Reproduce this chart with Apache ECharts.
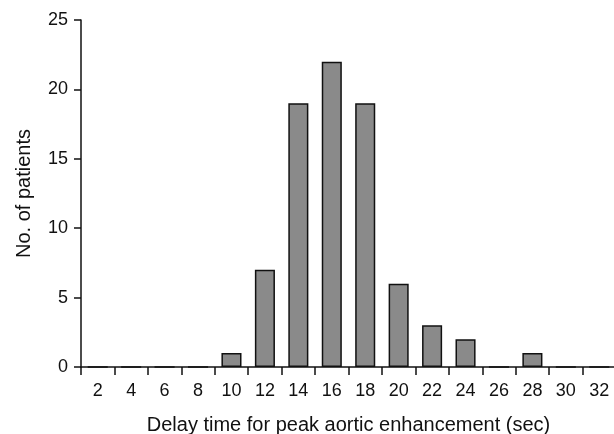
<!DOCTYPE html>
<html>
<head>
<meta charset="utf-8">
<script src="https://cdn.jsdelivr.net/npm/echarts@6/dist/echarts.min.js"></script>
<style>
  html, body { margin: 0; padding: 0; background: #fff; }
  #chart { width: 614px; height: 434px; }
</style>
</head>
<body>
<div id="chart"></div>
<script>
// delay time categories (sec)
const delayTimes = ['2', '4', '6', '8', '10', '12', '14', '16', '18', '20', '22', '24', '26', '28', '30', '32']
// number of patients per delay time
const patientCounts = [0, 0, 0, 0, 1, 7, 19, 22, 19, 6, 3, 2, 0, 1, 0, 0]
const yTicks = [0, 5, 10, 15, 20, 25]

let chartDom = document.getElementById('chart')
let myChart = echarts.init(chartDom)
let textColor = '#111'
let option = {
  animation: false,
  grid: {
    left: 81,
    right: -2,
    top: 20,
    bottom: 67,
    containLabel: false,
    outerBoundsMode: 'none'
  },
  xAxis: {
    type: 'category',
    data: delayTimes,
    boundaryGap: true,
    name: 'Delay time for peak aortic enhancement (sec)',
    nameLocation: 'middle',
    nameGap: 48,
    nameTextStyle: { color: textColor, fontSize: 20, fontFamily: 'Liberation Sans' },
    axisLine: { lineStyle: { color: '#111', width: 1.5 } },
    axisTick: { show: true, length: 8, alignWithLabel: false, lineStyle: { color: '#111', width: 1.5 } },
    axisLabel: { color: textColor, fontSize: 18, margin: 15, fontFamily: 'Liberation Sans' },
    splitLine: { show: false }
  },
  yAxis: {
    type: 'value',
    min: yTicks[0],
    max: yTicks[yTicks.length - 1],
    interval: yTicks[1] - yTicks[0],
    name: 'No. of patients',
    nameLocation: 'middle',
    nameGap: 47,
    nameTextStyle: { color: textColor, fontSize: 20, fontFamily: 'Liberation Sans' },
    axisLine: { show: true, lineStyle: { color: '#111', width: 1.5 } },
    axisTick: { show: true, length: 7, lineStyle: { color: '#111', width: 1.5 } },
    axisLabel: { color: textColor, fontSize: 18, margin: 13, fontFamily: 'Liberation Sans' },
    splitLine: { show: false }
  },
  series: [
    {
      name: 'Patients',
      type: 'bar',
      data: patientCounts,
      barWidth: '60%',
      itemStyle: {
        color: '#8a8a8a',
        borderColor: '#111',
        borderWidth: 1.5
      }
    }
  ]
}
myChart.setOption(option, true)
</script>
</body>
</html>
